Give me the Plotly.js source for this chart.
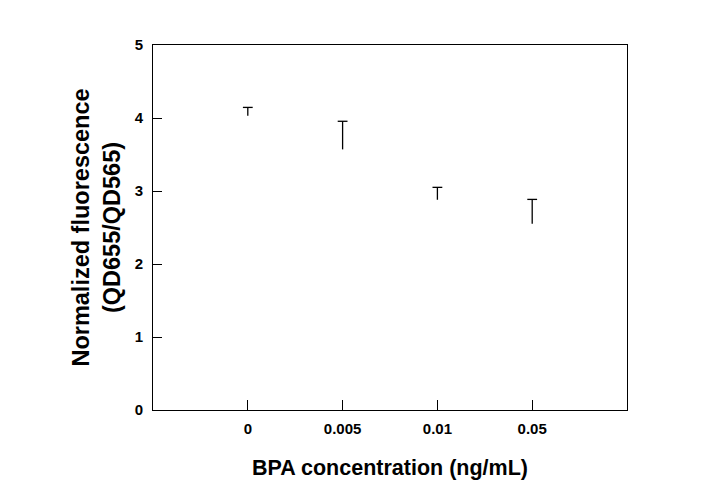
<!DOCTYPE html>
<html>
<head>
<meta charset="utf-8">
<script src="https://cdn.plot.ly/plotly-3.0.1.min.js"></script>
<style>html,body{margin:0;padding:0;background:#fff;}#chart{width:711px;height:481px;}</style>
</head>
<body>
<div id="chart"></div>
<script>
const categories = ["0", "0.005", "0.01", "0.05"];
const meanValues = [4.03, 3.57, 2.88, 2.55];
const errorUpper = [0.115, 0.385, 0.17, 0.335];
const yTickValues = [0, 1, 2, 3, 4, 5];

const fontFam = '"Liberation Sans", Arial, sans-serif';

// top of each error bar = mean + upper error (computed from the data arrays)
const errorTop = meanValues.map((v, i) => v + errorUpper[i]);
const zeros = meanValues.map(() => 0);

// Upper-only error bars: vertical stroke from the mean up to mean+SD, with a cap marker at the top
const trace = {
  type: 'scatter',
  mode: 'markers',
  x: categories,
  y: errorTop,
  marker: {symbol: 'line-ew', size: 7, color: '#000', line: {color: '#000', width: 1.3}},
  error_y: {
    type: 'data',
    symmetric: false,
    array: zeros,
    arrayminus: errorUpper,
    visible: true,
    color: '#000',
    thickness: 1.3,
    width: 0
  },
  hoverinfo: 'skip'
};

const layout = {
  width: 711,
  height: 481,
  margin: {l: 153, r: 84, t: 45, b: 71},
  paper_bgcolor: '#fff',
  plot_bgcolor: '#fff',
  showlegend: false,
  font: {family: fontFam, color: '#000'},
  xaxis: {
    type: 'category',
    range: [-1, 4],
    tickvals: categories,
    ticktext: categories,
    ticks: 'inside',
    ticklen: 10,
    tickwidth: 1,
    tickcolor: '#000',
    tickfont: {family: fontFam, size: 15, color: '#000', weight: 'bold'},
    showline: true,
    linecolor: '#000',
    linewidth: 1,
    mirror: true,
    showgrid: false,
    zeroline: false,
    ticklabelstandoff: 5,
    title: {text: '<b>BPA concentration (ng/mL)</b>', font: {family: fontFam, size: 21.5, color: '#000'}, standoff: 23}
  },
  yaxis: {
    range: [0, 5],
    tickvals: yTickValues,
    ticks: 'inside',
    ticklen: 9,
    tickwidth: 1,
    tickcolor: '#000',
    tickfont: {family: fontFam, size: 15, color: '#000', weight: 'bold'},
    showline: true,
    linecolor: '#000',
    linewidth: 1,
    mirror: true,
    showgrid: false,
    zeroline: false,
    ticklabelstandoff: 6,
    title: {text: '<b>Normalized fluorescence<br>(QD655/QD565)</b>', font: {family: fontFam, size: 23.5, color: '#000'}, standoff: 7}
  }
};

Plotly.newPlot('chart', [trace], layout, {displayModeBar: false, staticPlot: true});
</script>
</body>
</html>
